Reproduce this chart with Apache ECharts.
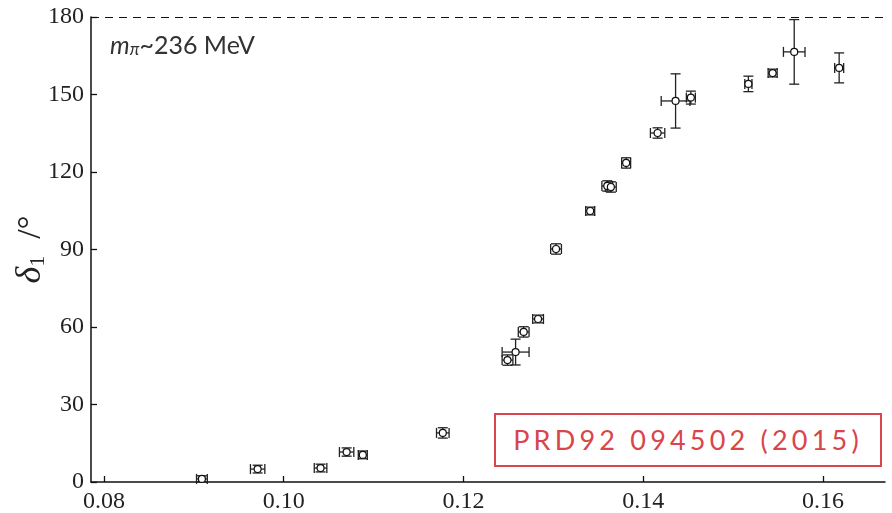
<!DOCTYPE html>
<html>
<head>
<meta charset="utf-8">
<script src="https://cdn.jsdelivr.net/npm/echarts@6/dist/echarts.min.js"></script>
<style>
  html, body { margin: 0; padding: 0; background: #fff; }
  #wrap { position: relative; width: 892px; height: 513px; }
  #chart { width: 892px; height: 513px; }
  #ref {
    position: absolute; left: 494px; top: 413px; width: 384px; height: 50px;
    border: 2px solid #d8454a; background: #fff; color: #d8454a;
    font-family: Lato, "Open Sans", sans-serif; font-size: 27px; letter-spacing: 4.2px;
    line-height: 50px; text-align: center; box-sizing: content-box;
  }
</style>
</head>
<body>
<div id="wrap">
  <div id="chart"></div>
  <div id="ref">PRD92 094502 (2015)</div>
</div>
<script>
// a_t E* values and the phase shift delta_1 (degrees)
var xVals = [0.0909, 0.0971, 0.1041, 0.1070, 0.1088, 0.1177, 0.1249, 0.1258, 0.1267, 0.1283,
             0.1303, 0.1341, 0.1360, 0.1364, 0.1381, 0.1416, 0.1436, 0.1453, 0.1517, 0.1544,
             0.1568, 0.1618];
var yVals = [1.2, 5.0, 5.4, 11.6, 10.5, 19.0, 47.2, 50.3, 58.1, 63.1,
             90.2, 104.9, 114.6, 114.2, 123.5, 135.1, 147.5, 148.8, 154.1, 158.3,
             166.5, 160.3];
var xErr = [0.0006, 0.0008, 0.0007, 0.0008, 0.0005, 0.0007, 0.0006, 0.0015, 0.0006, 0.0006,
            0.0006, 0.0005, 0.0006, 0.0006, 0.0005, 0.0008, 0.0016, 0.0005, 0.0004, 0.0005,
            0.0012, 0.0005];
var yErr = [1.2, 1.5, 1.5, 1.6, 1.5, 2.0, 2.0, 5.0, 2.0, 1.5,
            2.0, 1.5, 2.0, 2.0, 2.0, 2.0, 10.5, 2.5, 3.0, 1.5,
            12.5, 5.8];
var xTicks = [0.08, 0.10, 0.12, 0.14, 0.16];

var points = xVals.map(function (x, i) {
    return [x, yVals[i], xErr[i], yErr[i]];
});

var chart = echarts.init(document.getElementById('chart'));

function renderErr(params, api) {
    var x = api.value(0), y = api.value(1), dx = api.value(2), dy = api.value(3);
    var left = api.coord([x - dx, y]);
    var right = api.coord([x + dx, y]);
    var top = api.coord([x, y + dy]);
    var bottom = api.coord([x, y - dy]);
    var cap = 5;
    var st = { stroke: '#222', lineWidth: 1.3 };
    function line(x1, y1, x2, y2) {
        return { type: 'line', shape: { x1: x1, y1: y1, x2: x2, y2: y2 }, style: st };
    }
    return {
        type: 'group',
        children: [
            line(left[0], left[1], right[0], right[1]),
            line(left[0], left[1] - cap, left[0], left[1] + cap),
            line(right[0], right[1] - cap, right[0], right[1] + cap),
            line(top[0], top[1], bottom[0], bottom[1]),
            line(top[0] - cap, top[1], top[0] + cap, top[1]),
            line(bottom[0] - cap, bottom[1], bottom[0] + cap, bottom[1])
        ]
    };
}

var serif = '"Liberation Serif", serif';

var option = {
    animation: false,
    backgroundColor: '#fff',
    grid: { left: 91, right: 7, top: 17, bottom: 31, outerBoundsMode: 'none' },
    xAxis: {
        type: 'value',
        min: 0.07856,
        max: 0.1669,
        axisLine: { onZero: false, lineStyle: { color: '#111', width: 1.5 } },
        axisTick: { inside: true, length: 6, customValues: xTicks, lineStyle: { color: '#111', width: 1.3 } },
        axisLabel: {
            customValues: xTicks,
            formatter: function (v) { return v.toFixed(2); },
            fontFamily: serif, fontSize: 24, color: '#222', margin: 8
        },
        splitLine: { show: false }
    },
    yAxis: {
        type: 'value',
        min: 0, max: 180, interval: 30,
        name: '{d|δ}{s|1}{t|  /°}',
        nameLocation: 'middle',
        nameRotate: 90,
        nameGap: 42,
        nameMoveOverlap: false,
        nameTextStyle: {
            rich: {
                d: { fontFamily: serif, fontStyle: 'italic', fontSize: 36, color: '#222' },
                s: { fontFamily: serif, fontSize: 22, color: '#222', verticalAlign: 'bottom', padding: [14, 0, 0, 0] },
                t: { fontFamily: serif, fontSize: 34, color: '#222' }
            }
        },
        axisLine: { show: true, lineStyle: { color: '#111', width: 1.5 } },
        axisTick: { inside: true, length: 6, lineStyle: { color: '#111', width: 1.3 } },
        axisLabel: { fontFamily: serif, fontSize: 24, color: '#222', margin: 7 },
        splitLine: { show: false }
    },
    series: [
        {
            type: 'custom',
            renderItem: renderErr,
            data: points,
            encode: { x: 0, y: 1 },
            z: 2,
            markLine: {
                silent: true,
                symbol: 'none',
                label: { show: false },
                lineStyle: { color: '#111', type: [8, 6], width: 1 },
                data: [{ yAxis: 180 }]
            }
        },
        {
            type: 'scatter',
            data: points,
            symbol: 'circle',
            symbolSize: 7,
            itemStyle: { color: '#fff', borderColor: '#111', borderWidth: 1.2, opacity: 1 },
            z: 3
        }
    ],
    graphic: [
        {
            type: 'text',
            left: 110,
            top: 33,
            style: {
                text: '{m|m}{p|π}{n|~236 MeV}',
                rich: {
                    m: { fontFamily: 'Lato, sans-serif', fontStyle: 'italic', fontSize: 25, fill: '#333' },
                    p: { fontFamily: 'Lato, sans-serif', fontStyle: 'italic', fontSize: 17, fill: '#333', verticalAlign: 'bottom', padding: [9, 0, 0, 0] },
                    n: { fontFamily: 'Lato, sans-serif', fontSize: 25, fill: '#333' }
                }
            }
        }
    ]
};

chart.setOption(option);
</script>
</body>
</html>
